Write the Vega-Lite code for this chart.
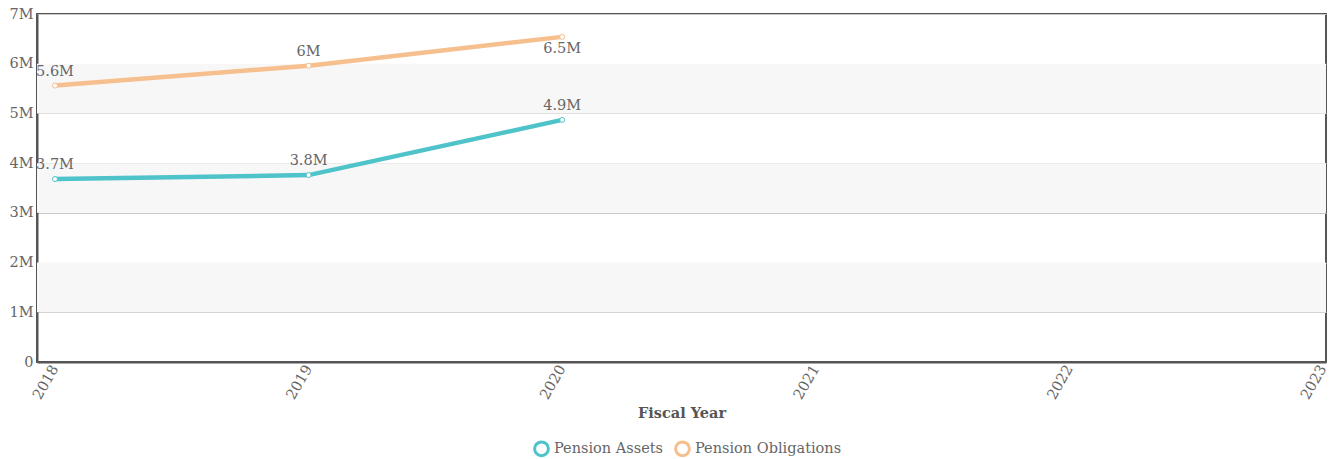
{
  "$schema": "https://vega.github.io/schema/vega-lite/v6.json",
  "autosize": {"type": "none"},
  "width": 1289,
  "height": 348,
  "padding": {"left": 37, "top": 14, "right": 9, "bottom": 97},
  "config": {
    "font": "DejaVu Serif",
    "view": {"stroke": "#555", "strokeWidth": 2},
    "axis": {"labelFont": "DejaVu Serif", "labelFontSize": 14.5, "labelColor": "#666", "titleFont": "DejaVu Serif", "domainColor": "#555", "domainWidth": 2, "ticks": false}
  },
  "data": {
    "values": [
      {"year": 2018, "series": "Pension Assets", "value": 3680000},
      {"year": 2019, "series": "Pension Assets", "value": 3760000},
      {"year": 2020, "series": "Pension Assets", "value": 4870000},
      {"year": 2018, "series": "Pension Obligations", "value": 5560000},
      {"year": 2019, "series": "Pension Obligations", "value": 5960000},
      {"year": 2020, "series": "Pension Obligations", "value": 6540000}
    ]
  },
  "layer": [
    {
      "data": {"values": [
        {"start": 1000000, "end": 2000000},
        {"start": 3000000, "end": 4000000},
        {"start": 5000000, "end": 6000000}
      ]},
      "mark": {"type": "rect", "fill": "#f7f7f7"},
      "encoding": {
        "x": {"datum": 2017.929, "type": "quantitative"},
        "x2": {"datum": 2023.012},
        "y": {"field": "start", "type": "quantitative"},
        "y2": {"field": "end"}
      }
    },
    {
      "mark": {"type": "line", "strokeWidth": 4.5},
      "encoding": {
        "x": {"field": "year", "type": "quantitative", "title": "Fiscal Year",
          "scale": {"domain": [2017.929, 2023.012], "nice": false, "zero": false},
          "axis": {"values": [2018, 2019, 2020, 2021, 2022, 2023], "format": "d", "labelAngle": -60, "labelPadding": 4, "titleFontSize": 14.5, "titleFontWeight": "bold", "titleColor": "#555", "titlePadding": 5, "grid": false}},
        "y": {"field": "value", "type": "quantitative", "title": null,
          "scale": {"domain": [0, 7000000], "nice": false},
          "axis": {"values": [0, 1000000, 2000000, 3000000, 4000000, 5000000, 6000000, 7000000], "labelExpr": "datum.value == 0 ? '0' : format(datum.value, '~s')", "labelPadding": 4, "gridColor": "#c8c8c8", "gridWidth": 1}},
        "color": {"field": "series", "type": "nominal", "title": null,
          "scale": {"domain": ["Pension Assets", "Pension Obligations"], "range": ["#4fc3ca", "#f6bf8e"]},
          "legend": {"orient": "none", "legendX": 496, "legendY": 426, "direction": "horizontal", "symbolType": "circle", "symbolFillColor": "white", "symbolStrokeWidth": 3, "symbolSize": 190, "labelFont": "DejaVu Serif", "labelFontSize": 14.5, "labelColor": "#666", "columnPadding": 6, "labelOffset": 4}}
      }
    },
    {
      "mark": {"type": "point", "filled": true, "fill": "white", "size": 25, "strokeWidth": 1, "opacity": 1},
      "encoding": {
        "x": {"field": "year", "type": "quantitative"},
        "y": {"field": "value", "type": "quantitative"},
        "stroke": {"field": "series", "type": "nominal", "legend": null,
          "scale": {"domain": ["Pension Assets", "Pension Obligations"], "range": ["#4fc3ca", "#f6bf8e"]}}
      }
    },
    {
      "transform": [{"filter": "datum.value < 6300000"}],
      "mark": {"type": "text", "dy": -14, "fontSize": 14.5, "color": "#666", "font": "DejaVu Serif"},
      "encoding": {
        "x": {"field": "year", "type": "quantitative"},
        "y": {"field": "value", "type": "quantitative"},
        "text": {"field": "value", "type": "quantitative", "format": ".2~s"}
      }
    },
    {
      "transform": [{"filter": "datum.value >= 6300000"}],
      "mark": {"type": "text", "dy": 12, "fontSize": 14.5, "color": "#666", "font": "DejaVu Serif"},
      "encoding": {
        "x": {"field": "year", "type": "quantitative"},
        "y": {"field": "value", "type": "quantitative"},
        "text": {"field": "value", "type": "quantitative", "format": ".2~s"}
      }
    }
  ]
}
